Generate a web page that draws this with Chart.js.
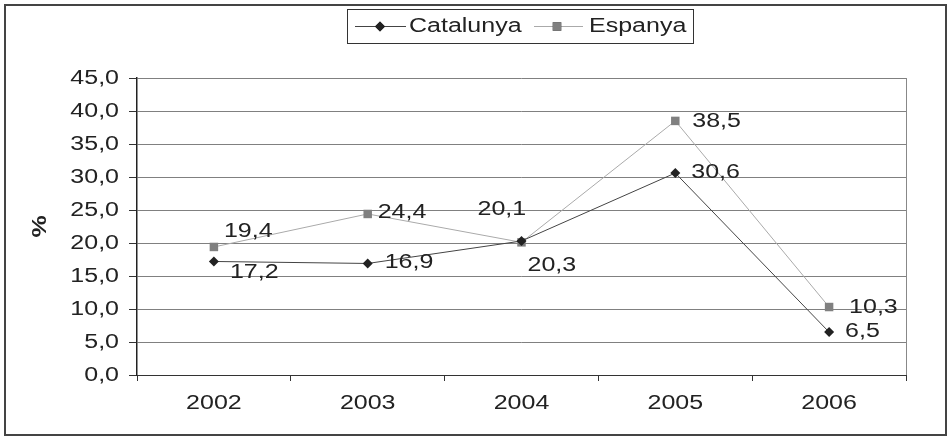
<!DOCTYPE html>
<html>
<head>
<meta charset="utf-8">
<script src="https://cdn.jsdelivr.net/npm/chart.js@4/dist/chart.umd.min.js"></script>
<style>
  html, body { margin: 0; padding: 0; background: #fff; }
  canvas { display: block; }
</style>
</head>
<body>
<canvas id="c" width="948" height="437"></canvas>
<script>
// ---- data ----
const years = ['2002', '2003', '2004', '2005', '2006'];
const catalunya = [17.2, 16.9, 20.3, 30.6, 6.5];
const espanya = [19.4, 24.4, 20.1, 38.5, 10.3];
const seriesNames = ['Catalunya', 'Espanya'];
const yTitle = '%';

// label placement (offset of text from its point: left edge, vertical middle)
const catLabelOffsets = [[16, 11], [17, -1], [6, 24], [16, -1], [16, -1]];
const espLabelOffsets = [[10, -15], [10, -1], [-44, -33], [17, 1], [20, 0]];

const FONT = '"Liberation Sans", Arial, sans-serif';
const TEXT_STRETCH = 1.25; // reference text glyphs are horizontally wide
const fmt = v => Number(v).toFixed(1).replace('.', ',');

const canvas = document.getElementById('c');
const ctx0 = canvas.getContext('2d');
const origFillText = ctx0.fillText.bind(ctx0);
ctx0.fillText = function (t, x, y, mw) {
  this.save();
  this.translate(x, y);
  this.scale(TEXT_STRETCH, 1);
  origFillText(t, 0, 0);
  this.restore();
};

const deco = {
  id: 'deco',
  afterDraw(chart) {
    const ctx = chart.ctx;
    const a = chart.chartArea;
    ctx.save();
    // plot area right border
    ctx.strokeStyle = '#888';
    ctx.lineWidth = 1;
    ctx.beginPath();
    ctx.moveTo(Math.round(a.right) + 0.5, a.top);
    ctx.lineTo(Math.round(a.right) + 0.5, a.bottom);
    ctx.stroke();

    // data labels
    ctx.font = '20px ' + FONT;
    ctx.fillStyle = '#222';
    ctx.textAlign = 'left';
    ctx.textBaseline = 'middle';
    const offs = [catLabelOffsets, espLabelOffsets];
    chart.data.datasets.forEach((ds, di) => {
      const meta = chart.getDatasetMeta(di);
      meta.data.forEach((pt, i) => {
        const o = offs[di][i];
        ctx.fillText(fmt(ds.data[i]), pt.x + o[0], pt.y + o[1]);
      });
    });

    // legend
    const lx = 347, ly = 9, lw = 346, lh = 34;
    ctx.strokeStyle = '#333';
    ctx.lineWidth = 1;
    ctx.strokeRect(lx + 0.5, ly + 0.5, lw, lh);
    const cy = ly + lh / 2 + 0.5;
    const items = [
      { x0: 355, x1: 406, mx: 380, tx: 409, ds: chart.data.datasets[0] },
      { x0: 534, x1: 583, mx: 557, tx: 589, ds: chart.data.datasets[1] }
    ];
    items.forEach(it => {
      ctx.strokeStyle = it.ds.borderColor;
      ctx.lineWidth = 1;
      ctx.beginPath();
      ctx.moveTo(it.x0, cy);
      ctx.lineTo(it.x1, cy);
      ctx.stroke();
      Chart.helpers.drawPoint(ctx, {
        pointStyle: it.ds.pointStyle,
        radius: it.ds.pointRadius,
        borderWidth: 0,
        rotation: 0
      }, it.mx, cy);
      ctx.fillStyle = it.ds.pointBackgroundColor;
      ctx.fill();
      ctx.fillStyle = '#222';
      ctx.font = '20px ' + FONT;
      ctx.textAlign = 'left';
      ctx.textBaseline = 'middle';
      ctx.fillText(it.ds.label, it.tx, cy);
    });

    // outer border
    ctx.strokeStyle = '#444';
    ctx.lineWidth = 2;
    ctx.strokeRect(5, 5, 941, 430);
    ctx.restore();
  }
};

new Chart(canvas, {
  type: 'line',
  data: {
    labels: years,
    datasets: [
      {
        label: seriesNames[0],
        data: catalunya,
        borderColor: '#444',
        borderWidth: 1,
        pointStyle: 'rectRot',
        pointRadius: 5,
        pointBackgroundColor: '#222',
        pointBorderWidth: 0,
        tension: 0
      },
      {
        label: seriesNames[1],
        data: espanya,
        borderColor: '#aaa',
        borderWidth: 1,
        pointStyle: 'rect',
        pointRadius: 6,
        pointBackgroundColor: '#808080',
        pointBorderWidth: 0,
        tension: 0
      }
    ]
  },
  options: {
    responsive: false,
    animation: false,
    events: [],
    layout: { padding: { left: 0, top: 78, right: 42, bottom: 12 } },
    plugins: { legend: { display: false }, tooltip: { enabled: false } },
    scales: {
      x: {
        offset: true,
        grid: {
          offset: true,
          drawOnChartArea: false,
          drawTicks: true,
          tickLength: 6,
          tickColor: '#333'
        },
        border: { color: '#333', width: 1 },
        ticks: {
          color: '#222',
          font: { family: FONT, size: 20 },
          padding: 10,
          maxRotation: 0
        },
        afterFit(s) { s.height = 50; }
      },
      y: {
        min: 0,
        max: 45,
        grid: {
          color: '#808080',
          lineWidth: 1,
          tickLength: 8,
          tickColor: '#333'
        },
        border: { color: '#222', width: 1.5 },
        ticks: {
          stepSize: 5,
          color: '#222',
          font: { family: FONT, size: 20 },
          padding: 10,
          callback: v => fmt(v)
        },
        title: {
          display: true,
          text: yTitle,
          color: '#222',
          font: { family: FONT, size: 20, weight: 'bold' },
          padding: { top: 28, bottom: 0 }
        },
        afterFit(s) { s.width = 137; }
      }
    }
  },
  plugins: [deco]
});
</script>
</body>
</html>
